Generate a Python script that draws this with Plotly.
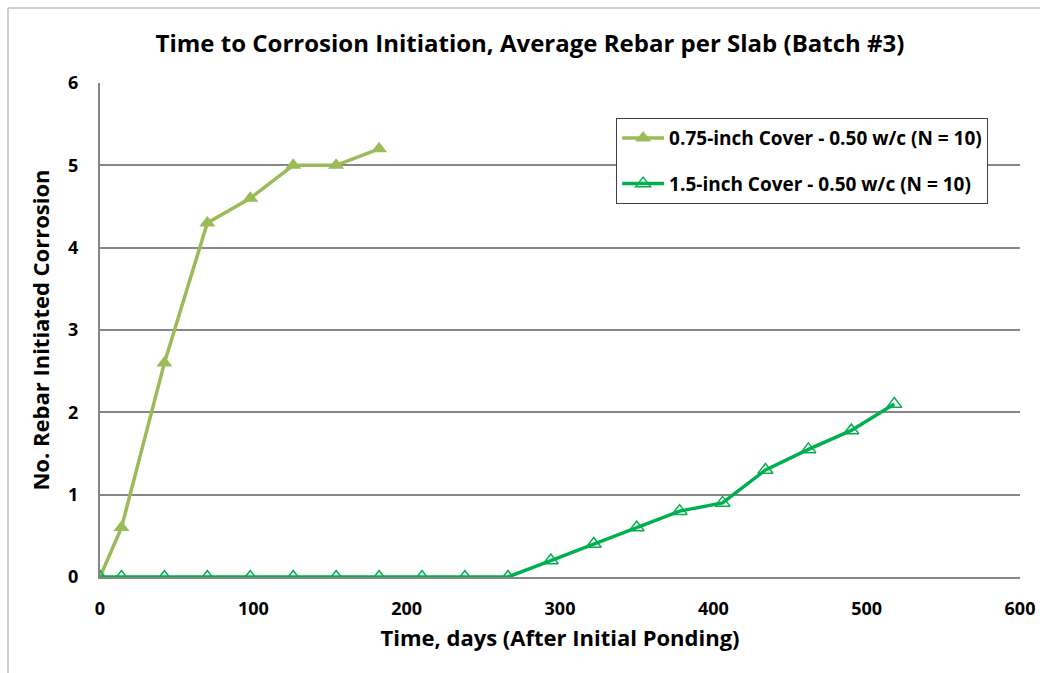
import plotly.graph_objects as go

# Data
days_075 = [0, 14, 42, 70, 98, 126, 154, 182]
rebar_075 = [0, 0.6, 2.6, 4.3, 4.6, 5.0, 5.0, 5.2]

days_15 = [0, 14, 42, 70, 98, 126, 154, 182, 210, 238, 266, 294, 322, 350, 378, 406, 434, 462, 490, 518]
rebar_15 = [0, 0, 0, 0, 0, 0, 0, 0, 0, 0, 0, 0.2, 0.4, 0.6, 0.8, 0.9, 1.3, 1.55, 1.78, 2.1]

name_075 = "0.75-inch Cover - 0.50 w/c (N = 10)"
name_15 = "1.5-inch Cover - 0.50 w/c (N = 10)"

x_ticks = [0, 100, 200, 300, 400, 500, 600]
y_ticks = [0, 1, 2, 3, 4, 5, 6]

FONT = "Open Sans"

fig = go.Figure()
fig.add_trace(go.Scatter(
    x=days_075, y=rebar_075, name=name_075, mode="lines+markers",
    line=dict(color="#9BBB59", width=3.5),
    marker=dict(symbol="triangle-up", size=14, color="#9BBB59"),
    legendgroup="a",
))
fig.add_trace(go.Scatter(
    x=days_15, y=rebar_15, name=name_15, mode="lines+markers",
    line=dict(color="#00B050", width=3.5),
    marker=dict(symbol="triangle-up-open", size=13, color="#00B050",
                line=dict(width=1.5, color="#00B050")),
    legendgroup="b",
))

fig.update_layout(
    width=1040, height=673,
    margin=dict(l=100, r=20, t=83, b=96),
    paper_bgcolor="white", plot_bgcolor="white",
    font=dict(family=FONT, color="black", weight="bold"),
    title=dict(text="Time to Corrosion Initiation, Average Rebar per Slab (Batch #3)",
               x=0.5096, xanchor="center", y=0.9346, yanchor="middle",
               font=dict(size=24, family=FONT, color="black", weight="bold")),
    showlegend=True,
    legend=dict(x=0.561, y=0.929, xanchor="left", yanchor="top",
                bgcolor="white", bordercolor="#404040", borderwidth=1,
                font=dict(size=19, family=FONT, color="black", weight="bold"),
                itemwidth=42,
                traceorder="grouped", tracegroupgap=18),
    xaxis=dict(range=[0, 600], tickvals=x_ticks,
               showgrid=False, zeroline=False, showline=True, linecolor="#868686", linewidth=2,
               ticks="", tickfont=dict(size=18, family=FONT, weight="bold"), ticklabelstandoff=14,
               automargin=False,
               title=dict(text="Time, days (After Initial Ponding)",
                          font=dict(size=22, family=FONT, weight="bold"), standoff=12)),
    yaxis=dict(range=[0, 6], tickvals=y_ticks,
               showgrid=True, gridcolor="#868686", gridwidth=2, zeroline=False,
               showline=True, linecolor="#868686", linewidth=2,
               ticks="", tickfont=dict(size=18, family=FONT, weight="bold"), ticklabelstandoff=16,
               automargin=False,
               title=dict(text="No. Rebar Initiated Corrosion",
                          font=dict(size=22, family=FONT, weight="bold"), standoff=12)),
    shapes=[
        dict(type="line", xref="paper", yref="paper", x0=-0.1, x1=-0.1, y0=-0.25, y1=1.1518,
             line=dict(color="#BFBFBF", width=1.5), layer="above"),
        dict(type="line", xref="paper", yref="paper", x0=-0.1, x1=1.1, y0=1.1518, y1=1.1518,
             line=dict(color="#BFBFBF", width=1.5), layer="above"),
    ],
)

fig.write_html("out.html", config={"displayModeBar": False},
               post_script="document.body.style.margin='0';document.body.style.overflow='hidden';")
